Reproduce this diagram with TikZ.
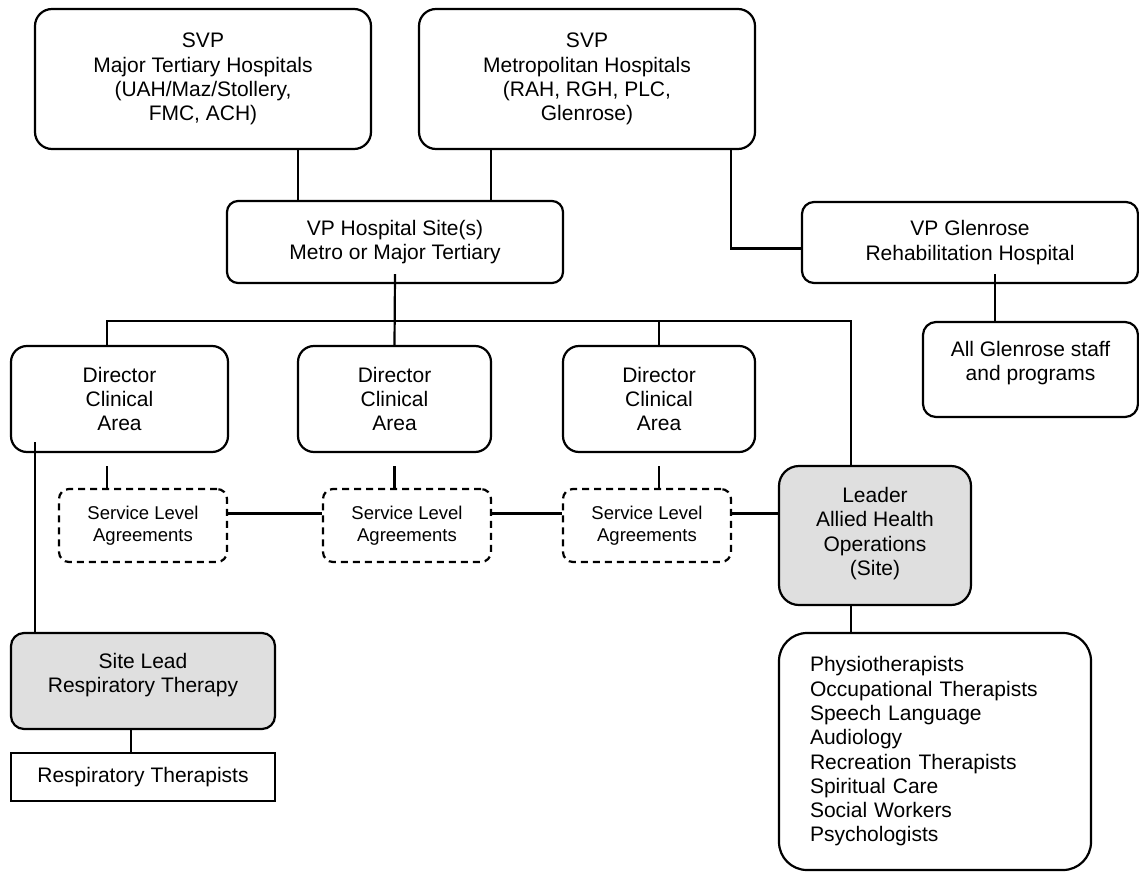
\documentclass[tikz,border=0pt]{standalone}
\usepackage{fontspec}
\setmainfont{Liberation Sans}
\usepackage{tikz}
\usetikzlibrary{positioning,calc}

\newcommand{\lowpad}[1]{\rule[-#1]{0pt}{#1}}

\begin{document}
\begin{tikzpicture}[x=1pt,y=-1pt]
\colorlet{box edge}{black}
\colorlet{lead area}{gray!25}
\tikzset{
     orgbox/.style={draw=box edge, line width=2.2pt, rounded corners=14pt, align=center,
        inner sep=0pt, font=\fontsize{21}{24.3}\selectfont},
     leadbox/.style={orgbox, fill=lead area},
     slabox/.style={orgbox, dash pattern=on 7pt off 5pt, rounded corners=10pt,
        font=\fontsize{18.5}{22.3}\selectfont},
     link/.style={draw=box edge, line width=2.2pt}}

\useasboundingbox (0,0) rectangle (1139,872);

% The senior boxes
\node (svpmajor) [orgbox, rounded corners=17pt, minimum width=336pt, minimum height=140pt] at (203,79)
  {SVP\\Major Tertiary Hospitals\\(UAH/Maz/Stollery,\\FMC, ACH)};
\node (svpmetro) [orgbox, rounded corners=17pt, minimum width=336pt, minimum height=140pt] at (587,79)
  {SVP\\Metropolitan Hospitals\\(RAH, RGH, PLC,\\Glenrose)};
\node (vpsite) [orgbox, rounded corners=11pt, minimum width=336pt, minimum height=82pt] at (395,242)
  {VP Hospital Site(s)\\Metro or Major Tertiary};
\node (vpglen) [orgbox, rounded corners=12pt, minimum width=336pt, minimum height=81pt] at (970,242.5)
  {VP Glenrose\\Rehabilitation Hospital};
\node (allglen) [orgbox, rounded corners=13pt, minimum width=215pt, minimum height=95pt] at (1030.5,369.5)
  {All Glenrose staff\\and programs\lowpad{17pt}};

% The directors and agreements
\node (dirA) [orgbox, rounded corners=16pt, minimum width=217pt, minimum height=106pt] at (119.5,399)
  {Director\\Clinical\\Area};
\node (dirB) [orgbox, rounded corners=16pt, minimum width=193pt, minimum height=106pt] at (394.5,399)
  {Director\\Clinical\\Area};
\node (dirC) [orgbox, rounded corners=16pt, minimum width=192pt, minimum height=106pt] at (659,399)
  {Director\\Clinical\\Area};
\node (slaA) [slabox, minimum width=168pt, minimum height=73pt] at (143,525.5) {Service Level\\Agreements};
\node (slaB) [slabox, minimum width=168pt, minimum height=73pt] at (407,525.5) {Service Level\\Agreements};
\node (slaC) [slabox, minimum width=168pt, minimum height=73pt] at (647,525.5) {Service Level\\Agreements};

% The site leads and staff
\node (leader) [leadbox, rounded corners=20pt, minimum width=192pt, minimum height=139pt] at (875,535.5)
  {Leader\\Allied Health\\Operations\\(Site)\lowpad{8pt}};
\node (sitelead) [leadbox, rounded corners=13pt, minimum width=264pt, minimum height=96pt] at (143,681)
  {Site Lead\\Respiratory Therapy\lowpad{16pt}};
\node (resp) [orgbox, rounded corners=0pt, minimum width=264pt, minimum height=48pt] at (143,777)
  {Respiratory Therapists};
\node (allied) [orgbox, rounded corners=28pt, minimum width=312pt, minimum height=237pt,
  text width=250pt, align=left] at (935,751.5)
  {Physiotherapists\\Occupational Therapists\\Speech Language\\Audiology\\Recreation Therapists\\Spiritual Care\\Social Workers\\Psychologists};

% The connectors
\coordinate (busleft) at (107,321);
\coordinate (busright) at (851,321);

\draw [link] (svpmajor.south -| 298,0) -- (vpsite.north -| 298,0);
\draw [link] (svpmetro.south -| 491,0) -- (vpsite.north -| 491,0);
\draw [link] (svpmetro.south -| 731,0) |- ([yshift=-6pt]vpglen.west);
\draw [link] ([yshift=10pt]vpglen.south -| 995,0) -- (allglen.north -| 995,0);

\draw [link] ([yshift=10pt]vpsite.south) -- (dirB.north);
\draw [link] (dirA.north -| busleft) -- (busleft) -- (busright) -- (leader.north -| busright);
\draw [link] (dirC.north) -- (dirC.north |- busleft);

\draw [link] ([yshift=-13pt]dirA.south -| busleft) -- (slaA.north -| busleft);
\draw [link] ([yshift=-13pt]dirB.south) -- (slaB.north -| dirB.south);
\draw [link] ([yshift=-13pt]dirC.south) -- (slaC.north -| dirC.south);

\draw [link] ([yshift=12pt]slaA.east) -- ([yshift=12pt]slaA.east -| slaB.west);
\draw [link] ([yshift=12pt]slaB.east) -- ([yshift=12pt]slaB.east -| slaC.west);
\draw [link] ([yshift=12pt]slaC.east) -- ([yshift=12pt]slaC.east -| leader.west);

\draw [link] ([yshift=11pt]dirA.south -| 35,0) -- (sitelead.north -| 35,0);
\draw [link] (sitelead.south -| 131,0) -- (resp.north -| 131,0);
\draw [link] (leader.south -| busright) -- (allied.north -| busright);
\end{tikzpicture}
\end{document}
